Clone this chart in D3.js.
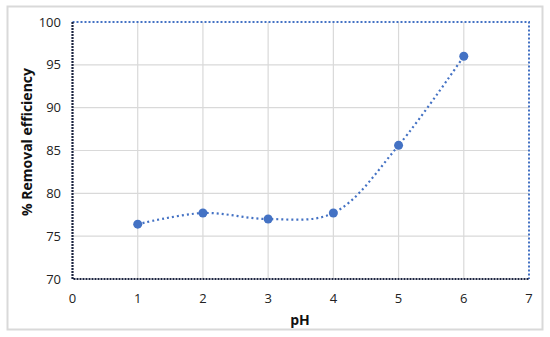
<!DOCTYPE html>
<html lang="en">
<head>
    <meta charset="UTF-8">
    <title>Removal efficiency vs pH</title>
    <style>
        body { margin: 0; background: #fff; }
        .tick-label { font: 13px "Open Sans", "Liberation Sans", sans-serif; fill: #222; }
        .axis-title { font: bold 14px "Open Sans", "Liberation Sans", sans-serif; fill: #111; }
        .grid { stroke: #d9d9d9; stroke-width: 1.2px; }
    </style>
</head>
<body>
    <div id="chart"></div>
    <script src="https://d3js.org/d3.v7.min.js"></script>
    <script>
        // data
        const pH = [1, 2, 3, 4, 5, 6];
        const removal = [76.4, 77.7, 77.0, 77.7, 85.6, 96.0];
        const xTicks = [0, 1, 2, 3, 4, 5, 6, 7];
        const yTicks = [70, 75, 80, 85, 90, 95, 100];

        const width = 550, height = 337;
        const blue = "#4472c4";

        const svg = d3.select("#chart").append("svg")
          .attr("width", width)
          .attr("height", height);

        // outer chart frame
        svg.append("rect")
          .attr("x", 7.5).attr("y", 6.5)
          .attr("width", 535).attr("height", 323)
          .attr("fill", "#fff")
          .attr("stroke", "#d9d9d9")
          .attr("stroke-width", 2);

        const x = d3.scaleLinear().domain([0, 7]).range([72.5, 529]);
        const y = d3.scaleLinear().domain([70, 100]).range([279, 22]);

        // gridlines
        svg.selectAll(".vgrid")
          .data(xTicks.slice(1, -1))
          .enter().append("line")
          .attr("class", "grid")
          .attr("x1", d => x(d)).attr("x2", d => x(d))
          .attr("y1", y(100)).attr("y2", y(70));

        svg.selectAll(".hgrid")
          .data(yTicks.slice(1, -1))
          .enter().append("line")
          .attr("class", "grid")
          .attr("x1", x(0)).attr("x2", x(7))
          .attr("y1", d => y(d)).attr("y2", d => y(d));

        // plot area border: top and right blue dotted, left and bottom dark dotted
        svg.append("path")
          .attr("d", `M${x(0)},${y(100)}H${x(7)}V${y(70)}`)
          .attr("fill", "none")
          .attr("stroke", blue)
          .attr("stroke-width", 2)
          .attr("stroke-dasharray", "2,2");

        svg.append("path")
          .attr("d", `M${x(0)},${y(100)}V${y(70)}H${x(7)}`)
          .attr("fill", "none")
          .attr("stroke", "#1c2440")
          .attr("stroke-width", 2.2)
          .attr("stroke-dasharray", "2,1");

        // tick labels
        svg.selectAll(".ylab")
          .data(yTicks)
          .enter().append("text")
          .attr("class", "tick-label")
          .attr("x", 61)
          .attr("y", d => y(d))
          .attr("dy", "0.35em")
          .attr("text-anchor", "end")
          .text(d => d);

        svg.selectAll(".xlab")
          .data(xTicks)
          .enter().append("text")
          .attr("class", "tick-label")
          .attr("x", d => x(d))
          .attr("y", 303)
          .attr("text-anchor", "middle")
          .text(d => d);

        // axis titles
        svg.append("text")
          .attr("class", "axis-title")
          .attr("x", 300).attr("y", 325)
          .attr("text-anchor", "middle")
          .text("pH");

        svg.append("text")
          .attr("class", "axis-title")
          .attr("transform", "translate(32,142) rotate(-90)")
          .attr("text-anchor", "middle")
          .text("% Removal efficiency");

        // smoothed dotted line
        const pts = pH.map((d, i) => [d, removal[i]]);
        const line = d3.line()
          .x(d => x(d[0]))
          .y(d => y(d[1]))
          .curve(d3.curveCatmullRom.alpha(0.5));

        svg.append("path")
          .datum(pts)
          .attr("d", line)
          .attr("fill", "none")
          .attr("stroke", blue)
          .attr("stroke-width", 2.2)
          .attr("stroke-dasharray", "2,3");

        svg.selectAll(".pt")
          .data(pts)
          .enter().append("circle")
          .attr("cx", d => x(d[0]))
          .attr("cy", d => y(d[1]))
          .attr("r", 4.5)
          .attr("fill", blue);
    </script>
</body>
</html>
